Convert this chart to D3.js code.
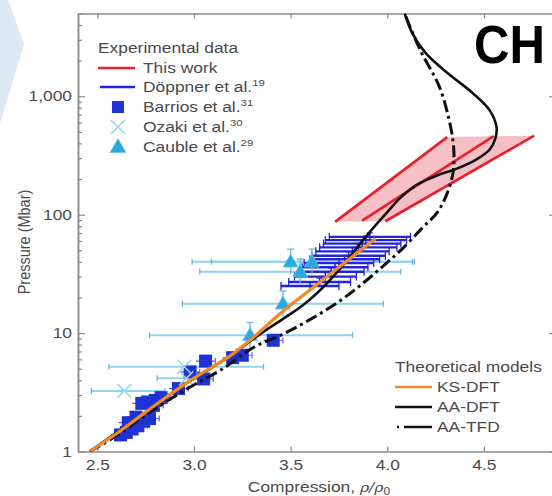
<!DOCTYPE html>
<html>
<head>
<meta charset="utf-8">
<script src="https://cdn.jsdelivr.net/npm/d3@7"></script>
<style>
  html, body { margin: 0; padding: 0; background: #fff; }
  svg { display: block; }
  text { font-family: "Liberation Sans", Arial, sans-serif; fill: #4a4a4a; }
</style>
</head>
<body>
<svg id="chart" width="552" height="496"></svg>
<script>
// ---- Theoretical Hugoniot curves: [compression, pressure (Mbar)] ----
const ksDft = [[2.46,1],[2.6,1.42],[2.75,2.15],[2.93,3.5],[3.06,4.8],[3.18,6.3],[3.31,9.3],[3.45,14.8],[3.62,24.5],[3.75,36],[3.94,63]];
const aaDft = [[2.46,1],[2.75,2.15],[2.93,3.5],[3.18,6.3],[3.33,9.5],[3.47,13.5],[3.56,17],[3.64,22],[3.72,30],[3.79,41],[3.86,57],[3.93,78],[4.0,105],[4.07,140],[4.15,178],[4.25,212],[4.36,245],[4.46,292],[4.53,355],[4.56,445],[4.565,550],[4.53,760],[4.44,1070],[4.31,1580],[4.2,2300],[4.13,3400],[4.09,5000]];
const aaTfd = [[2.46,1],[2.58,1.3],[2.78,2.2],[2.98,3.5],[3.14,4.9],[3.31,7.6],[3.46,9.8],[3.6,13],[3.74,18],[3.87,26],[3.98,37],[4.08,52],[4.18,77],[4.26,105],[4.31,152],[4.34,225],[4.345,320],[4.34,420],[4.32,630],[4.27,1200],[4.17,2460],[4.09,5000]];

// ---- This work: band edges and centre line ----
const bandLeft  = [[3.73,87],[4.31,452]];
const bandMid   = [[3.87,89],[4.55,460]];
const bandRight = [[3.99,88],[4.76,465]];

// ---- Döppner et al. ----
const doppnerRho = [3.91,3.89,3.87,3.85,3.82,3.80,3.78,3.75,3.73,3.71,3.68,3.65,3.60];
const doppnerP   = [65,61,57,53,49,45,42,39,36,33,30,27,25];
const doppnerErr = [0.21,0.21,0.20,0.20,0.19,0.19,0.18,0.18,0.17,0.17,0.16,0.16,0.15];

// ---- Barrios et al. ----
const barriosRho = [2.62,2.65,2.68,2.66,2.71,2.74,2.70,2.77,2.73,2.76,2.80,2.83,2.79,2.92,2.98,3.05,3.06,3.20,3.25,3.41];
const barriosP   = [1.38,1.45,1.55,1.75,1.65,1.80,1.95,1.90,2.55,2.62,2.70,2.85,2.45,3.40,4.70,4.10,5.80,6.20,6.50,8.70];

// ---- Ozaki et al. ----
const ozakiRho = [2.64,2.95,2.96];
const ozakiP   = [3.25,5.2,4.15];
const ozakiLo  = [2.47,2.56,2.81];
const ozakiHi  = [2.85,3.36,3.08];

// ---- Cauble et al. ----
const caubleRho = [3.29,3.46,3.50,3.61,3.55];
const caubleP   = [9.6,17.7,40,40,33];
const caubleLo  = [2.77,2.94,2.99,3.09,3.03];
const caubleHi  = [3.82,3.98,4.14,4.13,4.07];

// ---- Axis ticks ----
const xTicks = [2.5,3.0,3.5,4.0,4.5];
const yTicks = [1,10,100,1000];
const yTickLabels = ["1","10","100","1,000"];

const svg = d3.select("#chart");
const L = 78, R = 557, T = 13.5, B = 451.5;
const x = d3.scaleLinear().domain([2.4, 2.4 + (R - L) / 193.3]).range([L, R]);
const y = d3.scaleLog().domain([1, 5000]).range([B, T]);

// stretch text horizontally about its anchor point
function stretch(sel, s) {
  sel.each(function () {
    const t = d3.select(this);
    const tx = +t.attr("x") || 0, ty = +t.attr("y") || 0;
    t.attr("transform", `translate(${tx},${ty}) scale(${s},1) translate(${-tx},${-ty})`);
  });
}
const SX = 1.2;

// pale chevron in the corner
svg.append("polygon")
  .attr("points", "0,0 8,0 24,44 0,124")
  .attr("fill", "#dde8f5");

// ---- axes ----
const axisColor = "#8a8a8a";
function styleAxis(g) {
  g.select(".domain").attr("stroke", axisColor).attr("stroke-width", 1.5);
  g.selectAll(".tick line").attr("stroke", axisColor).attr("stroke-width", 1.2);
  g.selectAll("text").attr("font-size", 14.5).attr("fill", "#4a4a4a")
    .attr("font-family", "Liberation Sans, Arial, sans-serif");
}
const gxB = svg.append("g").attr("transform", `translate(0,${B})`)
  .call(d3.axisBottom(x).tickValues(xTicks).tickFormat(d3.format(".1f")).tickSize(-5).tickSizeOuter(0).tickPadding(8));
styleAxis(gxB);
stretch(gxB.selectAll("text"), SX);

const gxT = svg.append("g").attr("transform", `translate(0,${T})`)
  .call(d3.axisTop(x).tickValues(xTicks).tickFormat("").tickSize(-5).tickSizeOuter(0));
styleAxis(gxT);

const minorY = [];
for (let d = 1; d <= 1000; d *= 10) for (let k = 2; k <= 9; k++) if (d * k <= 5000) minorY.push(d * k);

const gyL = svg.append("g").attr("transform", `translate(${L},0)`)
  .call(d3.axisLeft(y).tickValues(yTicks).tickFormat((d, i) => yTickLabels[i]).tickSize(-7).tickSizeOuter(0).tickPadding(6));
styleAxis(gyL);
stretch(gyL.selectAll("text"), SX);
const gyLm = svg.append("g").attr("transform", `translate(${L},0)`)
  .call(d3.axisLeft(y).tickValues(minorY).tickFormat("").tickSize(-4).tickSizeOuter(0));
styleAxis(gyLm);

const gyR = svg.append("g").attr("transform", `translate(${R},0)`)
  .call(d3.axisRight(y).tickValues(yTicks).tickFormat("").tickSize(-8).tickSizeOuter(0));
styleAxis(gyR);

// axis titles
svg.append("text")
  .attr("transform", "translate(24,242) rotate(-90) scale(1,1.2)")
  .attr("text-anchor", "middle").attr("dy", "0.35em")
  .attr("font-size", 14.5).text("Pressure (Mbar)");

const xTitle = svg.append("text").attr("x", 319).attr("y", 492)
  .attr("text-anchor", "middle").attr("font-size", 14.5);
xTitle.append("tspan").text("Compression, ");
xTitle.append("tspan").attr("font-style", "italic").attr("font-family", "DejaVu Serif, serif").attr("font-size", 13).text("ρ/ρ");
xTitle.append("tspan").attr("font-size", 10).attr("dy", 3).text("0");
stretch(xTitle, SX);

// ---- plot area ----
svg.append("clipPath").attr("id", "plot-clip")
  .append("rect").attr("x", L).attr("y", T).attr("width", R - L).attr("height", B - T);
const plot = svg.append("g").attr("clip-path", "url(#plot-clip)");

// Cauble / Ozaki horizontal error bars
const lightBar = "#8fd4ef", lightCap = "#6fb7d8";
function hbar(g, rho0, rho1, p, color, capColor, w, cap) {
  g.append("line").attr("x1", x(rho0)).attr("x2", x(rho1)).attr("y1", y(p)).attr("y2", y(p))
    .attr("stroke", color).attr("stroke-width", w);
  [rho0, rho1].forEach(r => g.append("line").attr("x1", x(r)).attr("x2", x(r))
    .attr("y1", y(p) - cap).attr("y2", y(p) + cap).attr("stroke", capColor).attr("stroke-width", 1.3));
}
const gLight = plot.append("g");
caubleRho.forEach((r, i) => hbar(gLight, caubleLo[i], caubleHi[i], caubleP[i], lightBar, lightCap, 2, 3));
ozakiRho.forEach((r, i) => hbar(gLight, ozakiLo[i], ozakiHi[i], ozakiP[i], lightBar, lightCap, 2, 3));

// Döppner error bars
const gDop = plot.append("g");
const dopColor = "#2424d8";
doppnerRho.forEach((r, i) => {
  const p = doppnerP[i];
  hbar(gDop, r - doppnerErr[i], r + doppnerErr[i], p, dopColor, dopColor, 2.4, 4);
  gDop.append("line").attr("x1", x(r)).attr("x2", x(r))
    .attr("y1", y(p * 1.08)).attr("y2", y(p / 1.08)).attr("stroke", dopColor).attr("stroke-width", 1.5);
  gDop.append("line").attr("x1", x(r) - 3).attr("x2", x(r) + 3)
    .attr("y1", y(p * 1.08)).attr("y2", y(p * 1.08)).attr("stroke", dopColor).attr("stroke-width", 1.3);
});

// Barrios squares with small error bars
const gBar = plot.append("g");
barriosRho.forEach((r, i) => {
  const p = barriosP[i];
  gBar.append("line").attr("x1", x(r - 0.05)).attr("x2", x(r + 0.05)).attr("y1", y(p)).attr("y2", y(p))
    .attr("stroke", "#6a58d8").attr("stroke-width", 1.2);
  gBar.append("line").attr("x1", x(r + 0.05)).attr("x2", x(r + 0.05)).attr("y1", y(p) - 3).attr("y2", y(p) + 3)
    .attr("stroke", "#6a58d8").attr("stroke-width", 1.2);
});
gBar.selectAll("rect.sq").data(barriosRho).join("rect").attr("class", "sq")
  .attr("x", d => x(d) - 6.5).attr("y", (d, i) => y(barriosP[i]) - 6.5)
  .attr("width", 13).attr("height", 13).attr("fill", "#1f32d6");

// Ozaki crosses
const gOz = plot.append("g");
ozakiRho.forEach((r, i) => {
  const cx = x(r), cy = y(ozakiP[i]), s = 7;
  gOz.append("path").attr("d", `M${cx - s},${cy - s}L${cx + s},${cy + s}M${cx - s},${cy + s}L${cx + s},${cy - s}`)
    .attr("stroke", "#9fd6ec").attr("stroke-width", 1.6).attr("fill", "none");
});

// Cauble triangles with vertical error bars
const gCa = plot.append("g");
caubleRho.forEach((r, i) => {
  const cx = x(r), p = caubleP[i];
  gCa.append("line").attr("x1", cx).attr("x2", cx).attr("y1", y(p * 1.28)).attr("y2", y(p / 1.28))
    .attr("stroke", lightCap).attr("stroke-width", 1.4);
  gCa.append("line").attr("x1", cx - 3.5).attr("x2", cx + 3.5).attr("y1", y(p * 1.28)).attr("y2", y(p * 1.28))
    .attr("stroke", lightCap).attr("stroke-width", 1.4);
});
gCa.selectAll("path.tri").data(caubleRho).join("path").attr("class", "tri")
  .attr("d", d3.symbol(d3.symbolTriangle, 95))
  .attr("transform", (d, i) => `translate(${x(d)},${y(caubleP[i]) + 1})`)
  .attr("fill", "#2aa8e0").attr("stroke", "#5fc0e8").attr("stroke-width", 0.8);

// This work: shaded band and its lines
const bandPoly = bandLeft.concat(bandRight.slice().reverse());
plot.append("path")
  .attr("d", d3.line().x(d => x(d[0])).y(d => y(d[1]))(bandPoly) + "Z")
  .attr("fill", "#f5b4bb").attr("fill-opacity", 0.85);
[bandLeft, bandMid, bandRight].forEach(b => plot.append("path")
  .attr("d", d3.line().x(d => x(d[0])).y(d => y(d[1]))(b))
  .attr("stroke", "#e8202a").attr("stroke-width", 2.6).attr("fill", "none"));

// theoretical curves (KS-DFT drawn last so it stays visible where curves overlap)
const curve = d3.line().x(d => x(d[0])).y(d => y(d[1])).curve(d3.curveCatmullRom.alpha(0.5));
plot.append("path").attr("d", curve(aaTfd)).attr("fill", "none")
  .attr("stroke", "#111").attr("stroke-width", 3).attr("stroke-dasharray", "12,4,3,4");
plot.append("path").attr("d", curve(aaDft)).attr("fill", "none")
  .attr("stroke", "#111").attr("stroke-width", 2.6);
plot.append("path").attr("d", curve(ksDft)).attr("fill", "none")
  .attr("stroke", "#f08a24").attr("stroke-width", 3.2);

// ---- legends ----
function legendText(xp, yp, label, sup) {
  const t = svg.append("text").attr("x", xp).attr("y", yp).attr("dy", "0.35em").attr("font-size", 14.5);
  t.append("tspan").text(label);
  if (sup) t.append("tspan").attr("font-size", 9.5).attr("dy", -6).text(sup);
  stretch(t, SX);
  return t;
}
legendText(98, 48, "Experimental data");
svg.append("line").attr("x1", 98).attr("x2", 135).attr("y1", 68).attr("y2", 68)
  .attr("stroke", "#e8202a").attr("stroke-width", 2.6);
legendText(143, 68, "This work");
svg.append("line").attr("x1", 100).attr("x2", 135).attr("y1", 87).attr("y2", 87)
  .attr("stroke", dopColor).attr("stroke-width", 2.6);
legendText(143, 87, "Döppner et al.", "19");
svg.append("rect").attr("x", 112).attr("y", 101).attr("width", 12).attr("height", 12).attr("fill", "#1f32d6");
legendText(143, 107, "Barrios et al.", "31");
svg.append("path").attr("d", "M111,120L125,134M111,134L125,120")
  .attr("stroke", "#9fd6ec").attr("stroke-width", 1.6).attr("fill", "none");
legendText(143, 127, "Ozaki et al.", "30");
svg.append("path").attr("d", d3.symbol(d3.symbolTriangle, 110)).attr("transform", "translate(118,148)")
  .attr("fill", "#2aa8e0").attr("stroke", "#5fc0e8").attr("stroke-width", 0.8);
legendText(143, 147, "Cauble et al.", "29");

legendText(395, 367, "Theoretical models");
svg.append("line").attr("x1", 395).attr("x2", 432).attr("y1", 387).attr("y2", 387)
  .attr("stroke", "#f08a24").attr("stroke-width", 2.6);
legendText(437, 387, "KS-DFT");
svg.append("line").attr("x1", 395).attr("x2", 432).attr("y1", 407).attr("y2", 407)
  .attr("stroke", "#111").attr("stroke-width", 2.6);
legendText(437, 407, "AA-DFT");
svg.append("line").attr("x1", 397).attr("x2", 432).attr("y1", 427).attr("y2", 427)
  .attr("stroke", "#111").attr("stroke-width", 2.6).attr("stroke-dasharray", "2,5,40");
legendText(437, 427, "AA-TFD");

// panel label
svg.append("text").attr("x", 474).attr("y", 63)
  .attr("font-family", "Open Sans, Noto Sans, sans-serif").attr("font-weight", "bold")
  .attr("font-size", 53).attr("textLength", 71).attr("lengthAdjust", "spacingAndGlyphs")
  .style("fill", "#000").text("CH");
</script>
</body>
</html>
